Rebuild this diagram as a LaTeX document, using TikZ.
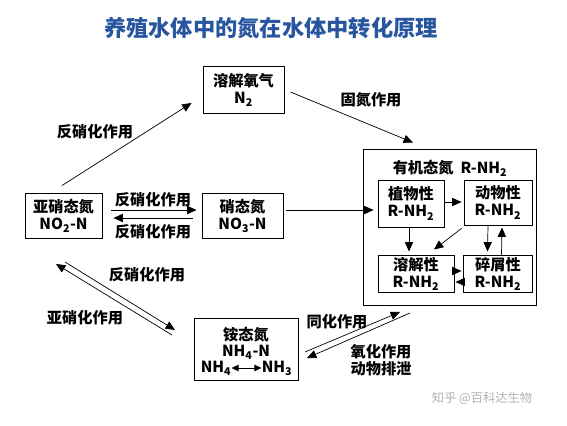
\documentclass[tikz,border=0pt]{standalone}
\usepackage{fontspec}
\setmainfont{Noto Sans CJK SC}
\usetikzlibrary{arrows.meta}
\definecolor{titleblue}{RGB}{40,86,158}
\tikzset{
  box/.style={draw, line width=0.8pt, inner sep=0pt, align=center,
    font=\bfseries\fontsize{13}{14.5}\selectfont},
  lbl/.style={inner sep=0pt, align=center, font=\bfseries\fontsize{13}{15}\selectfont},
  conv/.style={->, line width=0.6pt},
  >={Triangle[length=8pt,width=7pt]}
}
\newcommand{\sbs}[1]{\textsubscript{#1}}
\begin{document}
\begin{tikzpicture}[x=0.03cm, y=-0.03cm]
\useasboundingbox (0,0) rectangle (567,425);
\node[font=\bfseries\fontsize{19}{22}\selectfont, text=titleblue] (title) at (271,28) {养殖水体中的氮在水体中转化原理};

\node[box, minimum width=2.43cm, minimum height=1.41cm] (n2gas) at (243.5,89.5) {溶解氧气\\N\sbs{2}};
\node[box, minimum width=2.31cm, minimum height=1.35cm] (nitrite) at (63.5,215.5) {亚硝态氮\\NO\sbs{2}-N};
\node[box, minimum width=2.43cm, minimum height=1.35cm] (nitrate) at (242.5,215.5) {硝态氮\\NO\sbs{3}-N};
\node[box, minimum width=5.19cm, minimum height=4.68cm] (organic) at (449.5,227) {};
\node[lbl] (orgtitle) at (450,168) {有机态氮\ \ R-NH\sbs{2}};
\node[box, minimum width=1.98cm, minimum height=1.41cm] (plant) at (411,203.5) {植物性\\R-NH\sbs{2}};
\node[box, minimum width=2.04cm, minimum height=1.35cm] (animal) at (498,202.5) {动物性\\R-NH\sbs{2}};
\node[box, minimum width=2.28cm, minimum height=1.11cm] (dissolved) at (416,273.5) {溶解性\\R-NH\sbs{2}};
\node[box, minimum width=2.07cm, minimum height=1.11cm] (detritus) at (498,273.5) {碎屑性\\R-NH\sbs{2}};
\node[box, minimum width=3.12cm, minimum height=1.86cm] (ammonium) at (246,349) {};
\node[lbl] (ammname) at (246,335) {铵态氮};
\node[lbl] (ammform) at (246,352) {NH\sbs{4}-N};
\node[lbl] (nh4) at (216,368) {NH\sbs{4}};
\node[lbl] (nh3) at (277,368) {NH\sbs{3}};
\draw[<->, line width=0.6pt, >={Triangle[length=6pt,width=5.5pt]}] (nh4) -- (nh3);

\node[lbl] (dnup) at (95,132) {反硝化作用};
\node[lbl] (fix) at (371,100) {固氮作用};
\node[lbl] (dntop) at (153,200) {反硝化作用};
\node[lbl] (dnbot) at (153,232) {反硝化作用};
\node[lbl] (dndiag) at (147,275) {反硝化作用};
\node[lbl] (nitrify) at (85,318) {亚硝化作用};
\node[lbl] (assim) at (337,322) {同化作用};
\node[lbl] (oxid) at (381,360) {氧化作用\\动物排泄};
\node[font=\fontsize{10.5}{12}\selectfont, text=black!30] (mark) at (482,398) {知乎 @百科达生物};

\draw[conv] ([shift={(-1.5,-7)}]nitrite.north) -- ([shift={(-11,13.5)}]n2gas.west);
\draw[conv] ([shift={(6,2.5)}]n2gas.east) -- ([shift={(-36.5,-6)}]organic.north);
\draw[conv] ([shift={(3,-5.5)}]nitrate.east) -- ([shift={(-4,6.5)}]plant.west);
\draw[conv] ([shift={(9,-5.5)}]nitrite.east) -- ([shift={(-5,-5.5)}]nitrate.west);
\draw[conv] ([shift={(-9,2.5)}]nitrate.west) -- ([shift={(11,2.5)}]nitrite.east);

\coordinate (a1) at (65,262);
\coordinate (a2) at (175,330);
\coordinate (b1) at (172,335);
\coordinate (b2) at (56,264);
\draw[conv] (a1) -- (a2);
\draw[conv] (b1) -- (b2);
\coordinate (c1) at (305,352);
\coordinate (c2) at (400,312);
\coordinate (d1) at (410,313);
\coordinate (d2) at (307,358);
\draw[conv] (c1) -- (c2);
\draw[conv] (d1) -- (d2);

\draw[conv] ([shift={(0,-1.5)}]plant.east) -- ([shift={(-2,-0.5)}]animal.west);
\draw[conv] ([shift={(-2,0)}]plant.south) -- ([shift={(-7,-3)}]dissolved.north);
\draw[conv] ([shift={(-2,3)}]animal.south west) -- ([shift={(18,-5)}]dissolved.north);
\draw[conv] ([shift={(-10,0)}]animal.south) -- ([shift={(-10.5,-3)}]detritus.north);
\draw[conv] ([shift={(3.5,0)}]detritus.north) -- ([shift={(4,2)}]animal.south);
\draw[conv] ([shift={(0,-2.5)}]dissolved.east) -- ([shift={(-1.5,-2.5)}]detritus.west);
\draw[conv] ([shift={(0,8.5)}]detritus.west) -- ([shift={(1,8.5)}]dissolved.east);
\end{tikzpicture}
\end{document}
